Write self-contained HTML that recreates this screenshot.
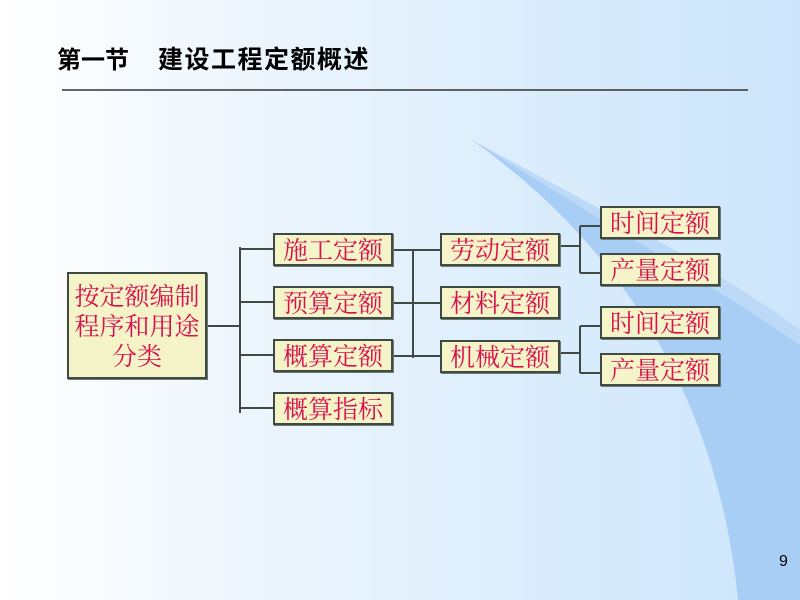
<!DOCTYPE html>
<html><head><meta charset="utf-8"><style>
body{margin:0;width:800px;height:600px;overflow:hidden;position:relative;font-family:"Liberation Sans","Noto Sans CJK SC",sans-serif;
background:linear-gradient(90deg,#ffffff 0%,#eef6fd 30%,#d9ecfc 70%,#cde5fb 100%);}
.b{position:absolute;box-sizing:border-box;background:#f5f3c8;border:2px solid #3f4a45;color:#d8104e;font-size:25px;text-align:center;line-height:29px;white-space:nowrap;font-family:"Noto Serif CJK SC",serif;box-shadow:1px 1px 0 #6a7a70;}
svg{position:absolute;left:0;top:0}
</style></head><body>
<svg width="800" height="600">
<path d="M472,140 C600,210 720,270 800,330 L800,600 L738,600 C720,420 640,260 472,140 Z" fill="#a9cef6"/>
<path d="M472,140 C600,210 720,270 800,330 L800,345 C720,290 600,220 472,140 Z" fill="#bcd9f8"/>
<line x1="62" y1="90" x2="748" y2="90" stroke="#333" stroke-width="1.5"/>
<g stroke="#3f4a45" stroke-width="2" fill="none">
<path d="M207,326 H240 M240,247 V413 M240,249 H273 M240,302 H273 M240,355 H273 M240,408 H273"/>
<path d="M393,250 H413 M393,303 H413 M393,356 H413 M413,250 V358 M413,250 H440 M413,303 H440 M413,356 H440"/>
<path d="M560,246 H580 M580,226 V273 M580,226 H600 M580,273 H600"/>
<path d="M560,353 H580 M580,326 V373 M580,326 H600 M580,373 H600"/>
</g>
</svg>
<div style="position:absolute;left:57px;top:40px;font-size:24px;font-weight:bold;color:#000;font-family:'Noto Sans CJK SC',sans-serif;white-space:nowrap"><span>第一节</span><span style="position:absolute;left:101px;top:0;font-size:25px;letter-spacing:1.5px">建设工程定额概述</span></div>
<div class="b" style="left:67px;top:272px;width:140px;height:107px;line-height:30px;padding-top:6px">按定额编制<br>程序和用途<br>分类</div>
<div class="b" style="left:273px;top:233px;width:120px;height:33px">施工定额</div>
<div class="b" style="left:273px;top:286px;width:120px;height:33px">预算定额</div>
<div class="b" style="left:273px;top:339px;width:120px;height:33px">概算定额</div>
<div class="b" style="left:273px;top:392px;width:120px;height:33px">概算指标</div>
<div class="b" style="left:440px;top:233px;width:120px;height:33px">劳动定额</div>
<div class="b" style="left:440px;top:286px;width:120px;height:33px">材料定额</div>
<div class="b" style="left:440px;top:340px;width:120px;height:33px">机械定额</div>
<div class="b" style="left:600px;top:206px;width:120px;height:33px">时间定额</div>
<div class="b" style="left:600px;top:253px;width:120px;height:33px">产量定额</div>
<div class="b" style="left:600px;top:306px;width:120px;height:33px">时间定额</div>
<div class="b" style="left:600px;top:353px;width:120px;height:33px">产量定额</div>
<div style="position:absolute;left:779px;top:553px;font-size:16px;color:#000">9</div>
</body></html>
